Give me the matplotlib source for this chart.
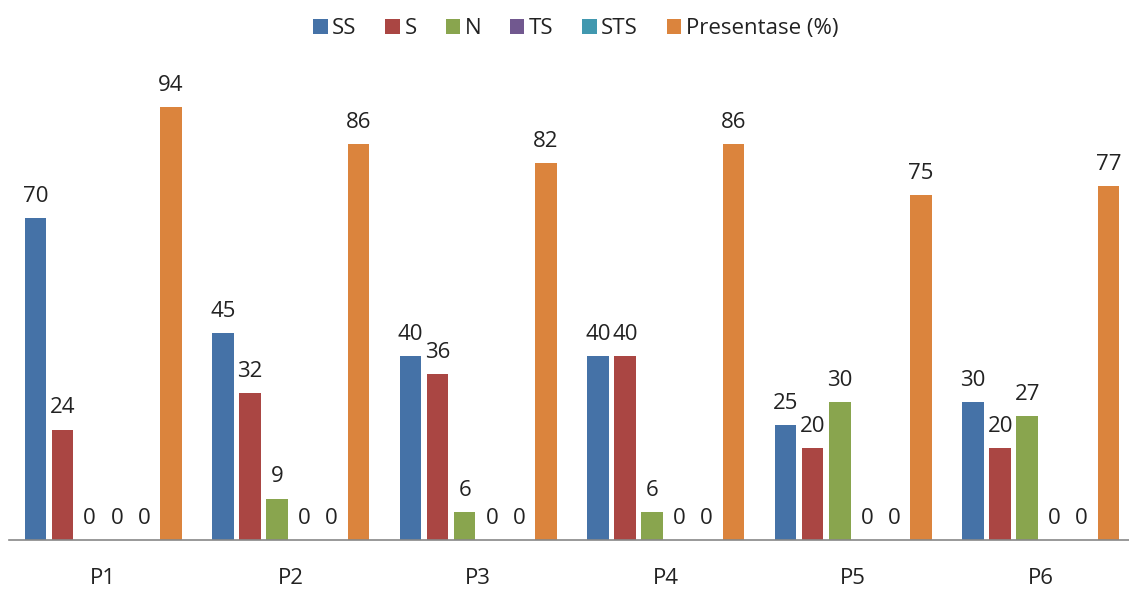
import matplotlib
matplotlib.use("Agg")
import matplotlib.pyplot as plt
import numpy as np

plt.rcParams['font.family'] = ['Open Sans', 'DejaVu Sans']

categories = ["P1", "P2", "P3", "P4", "P5", "P6"]
series_names = ["SS", "S", "N", "TS", "STS", "Presentase (%)"]
ss = [70, 45, 40, 40, 25, 30]
s = [24, 32, 36, 40, 20, 20]
n = [0, 9, 6, 6, 30, 27]
ts = [0, 0, 0, 0, 0, 0]
sts = [0, 0, 0, 0, 0, 0]
presentase = [94, 86, 82, 86, 75, 77]
colors = ["#4572A7", "#AA4643", "#89A54E", "#71588F", "#4198AF", "#DB843D"]

all_series = [ss, s, n, ts, sts, presentase]

fig = plt.figure(figsize=(11.29, 5.90), dpi=100)
ax = fig.add_axes([0.0084, 0.0847, 0.9965, 0.78])

x = np.arange(len(categories))
pitch = 0.1445
width = 0.115
for i, (name, vals) in enumerate(zip(series_names, all_series)):
    pos = x + (i - 2.5) * pitch
    bars = ax.bar(pos, vals, width, color=colors[i], label=name)
    for b, v in zip(bars, vals):
        ax.annotate(str(v), (b.get_x() + b.get_width() / 2, v),
                    xytext=(0, 8), textcoords="offset points",
                    ha="center", va="bottom", fontsize=16, color="#222222")

ax.set_xlim(-0.5, len(categories) - 0.5)
ax.set_ylim(0, 100)
ax.set_xticks(x)
ax.set_xticklabels(categories, fontsize=16, color="#222222")
ax.tick_params(axis='x', length=0, pad=20)
ax.set_yticks([])
for sp in ["top", "right", "left"]:
    ax.spines[sp].set_visible(False)
ax.spines["bottom"].set_color("#888888")
ax.spines["bottom"].set_linewidth(1.2)

fig.legend(loc="upper center", bbox_to_anchor=(0.51, 1.003), ncol=6, frameon=False,
           fontsize=16, handlelength=0.65, handleheight=0.65, handletextpad=0.2,
           columnspacing=1.3, labelcolor="#222222")

fig.savefig("out.png", dpi=100)
